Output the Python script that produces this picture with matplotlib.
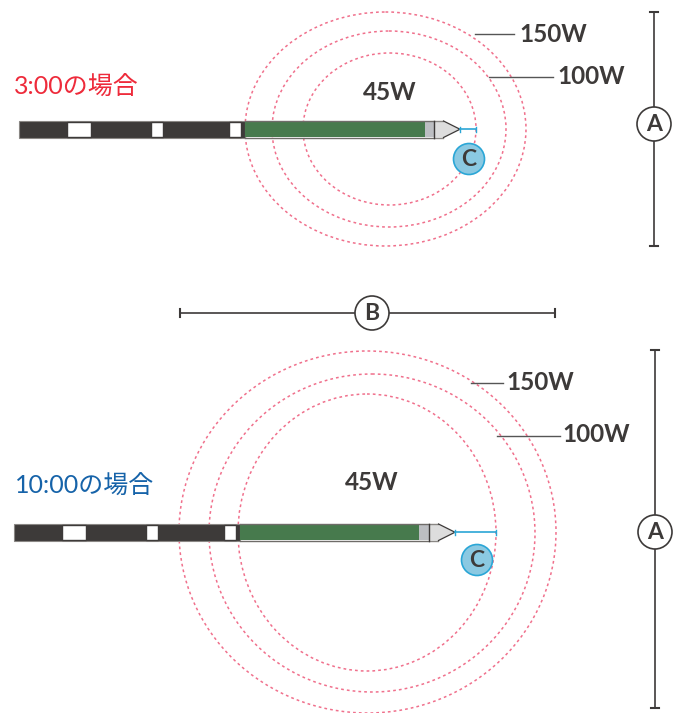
import matplotlib
matplotlib.use("Agg")
import matplotlib.pyplot as plt
from matplotlib.patches import Ellipse, Rectangle, Polygon, Circle

FONT = ["Lato", "Noto Sans CJK JP", "DejaVu Sans"]
DARK = "#3d3a39"
GREEN = "#477a4d"
PINK = "#f0708c"
BLUE = "#2ba6d6"
LIGHTBLUE = "#8bc9e2"

# ellipses: left, right, top, bottom
rings_top = [(245, 526, 12, 246), (272, 506, 31, 227), (303, 476, 53, 205)]
rings_bottom = [(179, 556, 351, 713), (209, 535, 374, 692), (238, 496, 394, 671)]

# drill: x start, y top, y bottom, white windows, green start, green end, grey end, tip, mark end
drill_top = dict(x0=19, y0=120.5, y1=138, windows=[(67.5, 91.5), (151, 163.5), (229, 241)],
                 green=(245, 425), grey=(425, 434.5), tip=460, mark=476)
drill_bottom = dict(x0=14, y0=523.5, y1=541, windows=[(62.5, 86.5), (146, 158.5), (224, 236)],
                    green=(240, 419.5), grey=(419.5, 429.5), tip=455, mark=496)

labels_top = [("150W", 519, 34, 475, 514, 34), ("100W", 557, 77, 489, 553, 77)]
labels_bottom = [("150W", 506, 383, 471, 503, 383), ("100W", 562, 435, 497, 560, 436)]

fig = plt.figure(figsize=(6.85, 7.13), dpi=100)
ax = fig.add_axes([0, 0, 1, 1])
ax.set_xlim(0, 685)
ax.set_ylim(713, 0)
ax.axis("off")


def draw_rings(rings):
    for left, right, top, bottom in rings:
        ax.add_patch(Ellipse(((left + right) / 2, (top + bottom) / 2), right - left, bottom - top,
                             fill=False, ec=PINK, lw=1.1, ls=(0, (1.8, 2.0)), zorder=1))


def draw_drill(d):
    y0, y1 = d["y0"], d["y1"]
    mid = (y0 + y1) / 2
    ax.add_patch(Rectangle((d["x0"], y0), d["green"][0] - d["x0"], y1 - y0, fc=DARK, ec="#8a8784", lw=0.8, zorder=2))
    for a, b in d["windows"]:
        ax.add_patch(Rectangle((a, y0 + 1), b - a, y1 - y0 - 2, fc="white", ec=DARK, lw=1.0, zorder=3))
    ax.add_patch(Rectangle((d["green"][0], y0 + 1), d["green"][1] - d["green"][0], y1 - y0 - 2, fc=GREEN, ec="none", zorder=3))
    ax.plot([d["green"][0], d["grey"][1]], [y0 + 0.5, y0 + 0.5], color="#6f6c69", lw=1.0, zorder=4)
    ax.plot([d["green"][0], d["grey"][1]], [y1 - 0.5, y1 - 0.5], color="#6f6c69", lw=1.0, zorder=4)
    ax.add_patch(Rectangle((d["grey"][0], y0 + 1), d["grey"][1] - d["grey"][0], y1 - y0 - 2, fc="#bcbec2", ec="none", zorder=3))
    ax.add_patch(Polygon([(d["grey"][1], y0 + 0.5), (d["grey"][1] + 9, y0 + 0.5), (d["tip"], mid),
                          (d["grey"][1] + 9, y1 - 0.5), (d["grey"][1], y1 - 0.5)],
                         fc="#dddddd", ec="none", zorder=3))
    ax.plot([d["grey"][1], d["grey"][1] + 9], [y0 + 0.5, y0 + 0.5], color="#8a8784", lw=1.0, zorder=4)
    ax.plot([d["grey"][1], d["grey"][1] + 9], [y1 - 0.5, y1 - 0.5], color="#8a8784", lw=1.0, zorder=4)
    ax.plot([d["grey"][1] + 9, d["tip"], d["grey"][1] + 9], [y0 + 0.5, mid, y1 - 0.5], color="#3d3a39", lw=0.9, zorder=4)
    ax.plot([d["grey"][1], d["grey"][1]], [y0, y1], color="#3d3a39", lw=1.0, zorder=4)
    ax.plot([d["tip"], d["mark"]], [mid, mid], color=BLUE, lw=1.2, zorder=5)
    ax.plot([d["tip"], d["tip"]], [mid - 2.5, mid + 2.5], color=BLUE, lw=1.0, zorder=5)
    ax.plot([d["mark"], d["mark"]], [mid - 2.5, mid + 2.5], color=BLUE, lw=1.0, zorder=5)


def draw_labels(labels):
    for text, tx, ty, x0, x1, ly in labels:
        ax.plot([x0, x1], [ly, ly], color="#555555", lw=1.0, zorder=5)
        ax.text(tx, ty, text, family=FONT, fontsize=17.5, fontweight="bold", color=DARK, va="center", ha="left")


def badge(x, y, text, r=17, fc="white", ec=DARK, lw=1.2):
    ax.add_patch(Circle((x, y), r, fc=fc, ec=ec, lw=lw, zorder=6))
    ax.text(x, y + 0.5, text, family=FONT, fontsize=16.5, fontweight="bold", color=DARK, ha="center", va="center", zorder=7)


def dimension_v(x, y0, y1, ymid):
    ax.plot([x, x], [y0, y1], color=DARK, lw=1.2, zorder=2)
    for y in (y0, y1):
        ax.plot([x - 4, x + 4], [y, y], color=DARK, lw=1.5, zorder=2)
    badge(x, ymid, "A")


def dimension_h(y, x0, x1, xmid):
    ax.plot([x0, x1], [y, y], color=DARK, lw=1.2, zorder=2)
    for x in (x0, x1):
        ax.plot([x, x], [y - 4, y + 4], color=DARK, lw=1.5, zorder=2)
    badge(xmid, y, "B")


draw_rings(rings_top)
draw_rings(rings_bottom)
draw_drill(drill_top)
draw_drill(drill_bottom)
draw_labels(labels_top)
draw_labels(labels_bottom)

ax.text(14, 87, "3:00の場合", family=FONT, fontsize=18, color="#ee2b3b", va="center", ha="left")
ax.text(15, 486, "10:00の場合", family=FONT, fontsize=18, color="#1663a9", va="center", ha="left")
ax.text(390, 93, "45W", family=FONT, fontsize=17.5, fontweight="bold", color=DARK, ha="center", va="center")
ax.text(372, 483, "45W", family=FONT, fontsize=17.5, fontweight="bold", color=DARK, ha="center", va="center")

dimension_v(654, 12, 246, 124)
dimension_v(655, 350, 708, 532)
dimension_h(313, 180, 555, 372)
badge(469, 159, "C", r=15.5, fc=LIGHTBLUE, ec=BLUE)
badge(477, 560, "C", r=15.5, fc=LIGHTBLUE, ec=BLUE)

fig.savefig("out.png", dpi=100)
